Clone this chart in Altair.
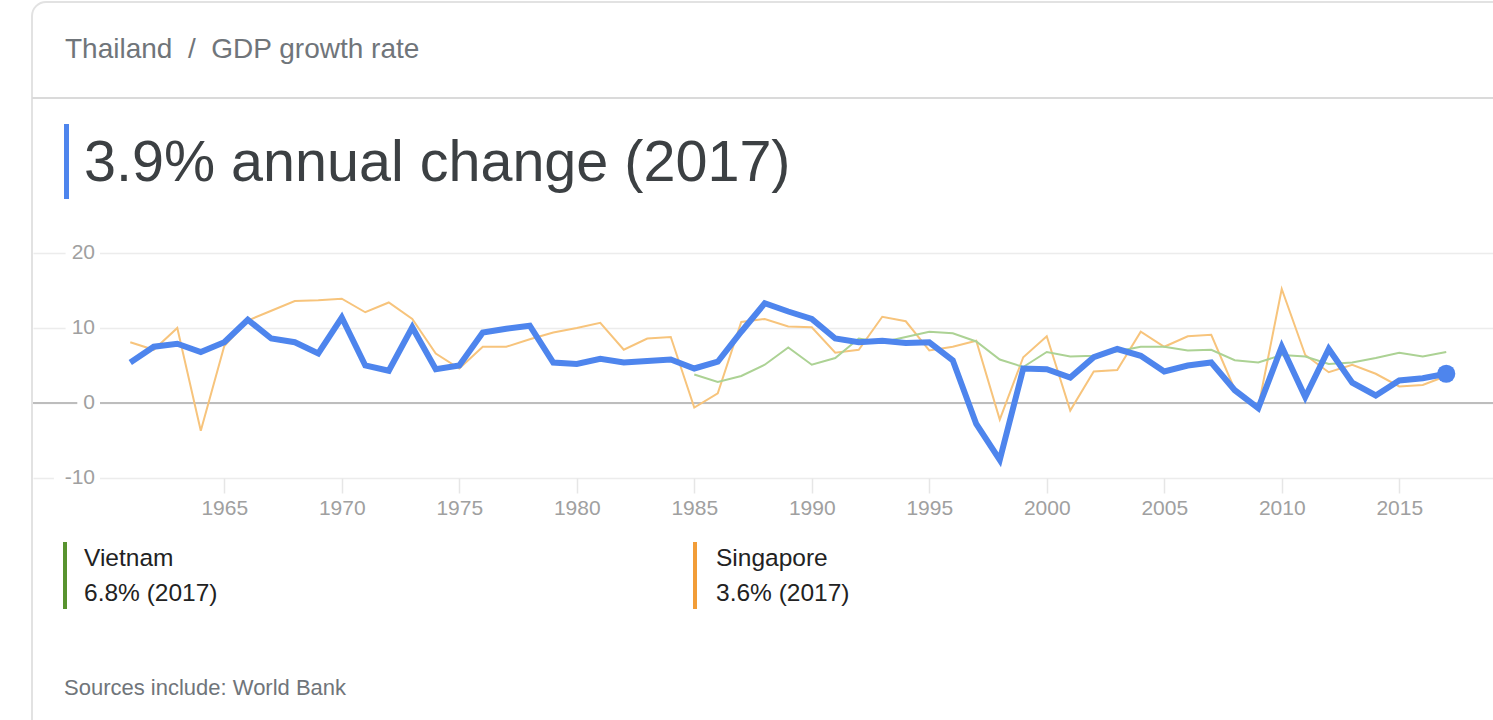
import altair as alt
import pandas as pd

years = list(range(1961, 2018))
thailand = [5.4, 7.5, 7.9, 6.8, 8.1, 11.1, 8.6, 8.1, 6.6, 11.4,
            5.0, 4.3, 10.1, 4.5, 5.0, 9.4, 9.9, 10.3, 5.4, 5.2,
            5.9, 5.4, 5.6, 5.8, 4.6, 5.5, 9.5, 13.3, 12.2, 11.2,
            8.6, 8.1, 8.3, 8.0, 8.1, 5.7, -2.8, -7.6, 4.6, 4.5,
            3.4, 6.1, 7.2, 6.3, 4.2, 5.0, 5.4, 1.7, -0.7, 7.5,
            0.8, 7.2, 2.7, 1.0, 3.0, 3.3, 3.9]
singapore = [8.1, 7.1, 10.0, -3.7, 7.6, 11.0, 12.3, 13.6, 13.7, 13.9,
             12.1, 13.4, 11.2, 6.6, 4.6, 7.5, 7.5, 8.5, 9.4, 10.0,
             10.7, 7.1, 8.6, 8.8, -0.6, 1.3, 10.8, 11.2, 10.2, 10.1,
             6.7, 7.1, 11.5, 10.9, 7.0, 7.5, 8.3, -2.2, 6.1, 8.9,
             -1.0, 4.2, 4.4, 9.5, 7.5, 8.9, 9.1, 1.8, -0.6, 15.2,
             6.4, 4.1, 5.1, 3.9, 2.2, 2.4, 3.6]
vietnam_years = list(range(1985, 2018))
vietnam = [3.8, 2.8, 3.6, 5.1, 7.4, 5.1, 6.0, 8.6, 8.1, 8.8,
           9.5, 9.3, 8.2, 5.8, 4.8, 6.8, 6.2, 6.3, 6.9, 7.5,
           7.5, 7.0, 7.1, 5.7, 5.4, 6.4, 6.2, 5.2, 5.4, 6.0,
           6.7, 6.2, 6.8]
x_ticks = [1965, 1970, 1975, 1980, 1985, 1990, 1995, 2000, 2005, 2010, 2015]
y_ticks = [-10, 0, 10, 20]
y_tick_labels = ["-10", "0", "10", "20"]

FONT = "Liberation Sans"
BLUE = "#4e85ed"

df_th = pd.DataFrame({"year": years, "value": thailand})
df_sg = pd.DataFrame({"year": years, "value": singapore})
df_vn = pd.DataFrame({"year": vietnam_years, "value": vietnam})
df_last = df_th.tail(1)
df_yt = pd.DataFrame({"value": y_ticks, "label": y_tick_labels})

xs = alt.Scale(domain=[1956.86, 2018.99], nice=False, zero=False)
ys = alt.Scale(domain=[-10, 22], nice=False, zero=False)

X = alt.X("year:Q", scale=xs,
          axis=alt.Axis(values=x_ticks, format="d", title=None, grid=False,
                        domain=False, tickColor="#e6e6e6", tickWidth=1.5,
                        tickSize=15, labelFontSize=21, labelColor="#a0a0a0",
                        labelFont=FONT, labelPadding=4))
Y = alt.Y("value:Q", scale=ys,
          axis=alt.Axis(values=y_ticks, title=None, labels=False, ticks=False,
                        domain=False, grid=True, gridColor="#ececec",
                        gridWidth=1.5))

one = pd.DataFrame({"k": [0]})

card = alt.Chart(one).mark_rect(fill="transparent", stroke="#e2e2e2", strokeWidth=2,
                                cornerRadius=14).encode(
    x=alt.value(-1), x2=alt.value(1500), y=alt.value(-236), y2=alt.value(520))

divider = alt.Chart(one).mark_rule(color="#dadada", strokeWidth=2).encode(
    x=alt.value(-1), x2=alt.value(1460), y=alt.value(-140))

header = alt.Chart(one).mark_text(align="left", baseline="middle", font=FONT,
                                  fontSize=28, color="#70757a").encode(
    x=alt.value(32), y=alt.value(-188),
    text=alt.value("Thailand\u00a0\u00a0/\u00a0\u00a0GDP growth rate"))

accent = alt.Chart(one).mark_rule(color=BLUE, strokeWidth=5).encode(
    x=alt.value(33.5), y=alt.value(-114), y2=alt.value(-39))

title = alt.Chart(one).mark_text(align="left", baseline="middle", font=FONT,
                                 fontSize=57.5, color="#3c4043").encode(
    x=alt.value(51), y=alt.value(-74), text=alt.value("3.9% annual change (2017)"))

base = alt.Chart(df_th).mark_line(opacity=0).encode(x=X, y=Y)

zero = alt.Chart(pd.DataFrame({"value": [0]})).mark_rule(
    color="#bdbdbd", strokeWidth=2).encode(y=alt.Y("value:Q", scale=ys))

label_bg = alt.Chart(df_yt).transform_calculate(
    x1="62 - length(datum.label) * 11.7 - 6", x2="67"
).mark_rule(color="white", strokeWidth=5).encode(
    x=alt.X("x1:Q", scale=None), x2="x2:Q", y=alt.Y("value:Q", scale=ys))

label_txt = alt.Chart(df_yt).mark_text(align="right", baseline="middle",
                                       font=FONT, fontSize=21,
                                       color="#a0a0a0").encode(
    x=alt.value(62), y=alt.Y("value:Q", scale=ys), text="label:N")

line_sg = alt.Chart(df_sg).mark_line(color="#f7c47c", strokeWidth=2).encode(
    x=alt.X("year:Q", scale=xs), y=alt.Y("value:Q", scale=ys))
line_vn = alt.Chart(df_vn).mark_line(color="#acd294", strokeWidth=2).encode(
    x=alt.X("year:Q", scale=xs), y=alt.Y("value:Q", scale=ys))
line_th = alt.Chart(df_th).mark_line(color=BLUE, strokeWidth=6).encode(
    x=alt.X("year:Q", scale=xs), y=alt.Y("value:Q", scale=ys))
dot = alt.Chart(df_last).mark_circle(color=BLUE, opacity=1, size=330).encode(
    x=alt.X("year:Q", scale=xs), y=alt.Y("value:Q", scale=ys))

# legend
leg_vn_bar = alt.Chart(one).mark_rule(color="#58932f", strokeWidth=4).encode(
    x=alt.value(32), y=alt.value(304), y2=alt.value(371))
leg_sg_bar = alt.Chart(one).mark_rule(color="#f29d38", strokeWidth=4).encode(
    x=alt.value(662), y=alt.value(304), y2=alt.value(371))

def txt(x, y, s, size=24, color="#222222"):
    return alt.Chart(one).mark_text(align="left", baseline="middle", font=FONT,
                                    fontSize=size, color=color).encode(
        x=alt.value(x), y=alt.value(y), text=alt.value(s))

leg_texts = [
    txt(51, 321, "Vietnam", size=24.5),
    txt(51, 356, "6.8% (2017)", size=24.5),
    txt(683, 321, "Singapore", size=24.5),
    txt(683, 356, "3.6% (2017)", size=24.5),
    txt(31, 450, "Sources include: World Bank", size=22, color="#70757a"),
]

chart = alt.layer(
    card, divider, header, accent, title,
    base, zero, label_bg, label_txt,
    line_sg, line_vn, line_th, dot,
    leg_vn_bar, leg_sg_bar, *leg_texts
).properties(
    width=1460, height=240,
    autosize=alt.AutoSizeParams(type="none"),
    padding={"left": 33, "top": 238, "right": 0, "bottom": 242},
    background="white",
).configure_view(stroke=None)

chart.save("out.html", embed_options={"renderer": "svg", "actions": False})
